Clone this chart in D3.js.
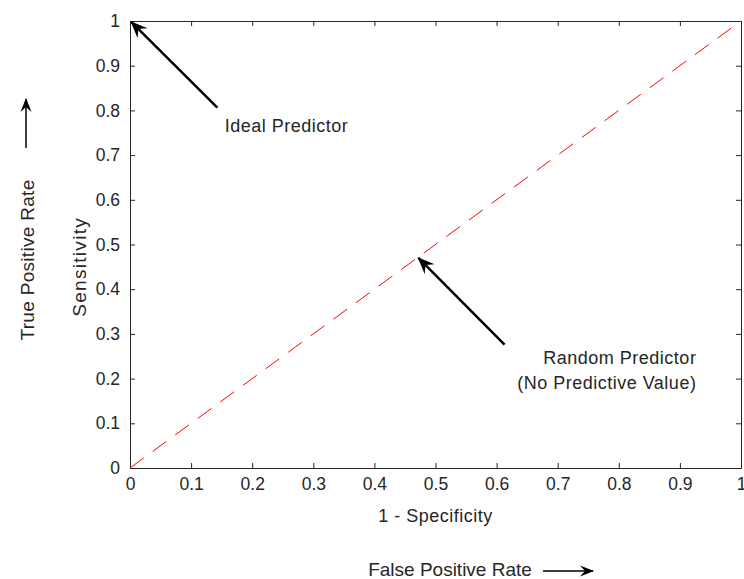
<!DOCTYPE html>
<html>
<head>
<meta charset="utf-8">
<script src="https://cdn.jsdelivr.net/npm/d3@7"></script>
<style>
  body { margin: 0; background: #fff; }
  text { font-family: "Liberation Sans", Arial, sans-serif; fill: #262626; }
</style>
</head>
<body>
<div class="plot"></div>
<script>
// ROC reference diagram: chance line plus two annotated predictors

var w = 744;
var h = 579;
var margin = {left: 130, right: 3, top: 21, bottom: 111};

// tick values / labels
var xTicks = [0, 0.1, 0.2, 0.3, 0.4, 0.5, 0.6, 0.7, 0.8, 0.9, 1];
var yTicks = [0, 0.1, 0.2, 0.3, 0.4, 0.5, 0.6, 0.7, 0.8, 0.9, 1];

// random classifier line (FPR, TPR)
var chanceLine = [[0, 0], [1, 1]];

// annotation arrows in data units: tail -> tip
var arrows = [
  {from: [0.143, 0.806], to: [0.002, 0.998]},
  {from: [0.613, 0.276], to: [0.472, 0.470]}
];

// annotation text
var notes = [
  {x: 0.155, y: 0.752, anchor: "start", lines: ["Ideal Predictor"]},
  {x: 0.927, y: 0.232, anchor: "end", lines: ["Random Predictor", "(No Predictive Value)"]}
];

var svg = d3.select(".plot").append("svg").attr("width", w).attr("height", h);

var xScale = d3.scaleLinear()
  .domain([0, 1])
  .range([margin.left, w - margin.right]);
var yScale = d3.scaleLinear()
  .domain([0, 1])
  .range([h - margin.bottom, margin.top]);

var fmt = function (d) { return d === 0 || d === 1 ? d3.format("d")(d) : d3.format(".1f")(d); };

// arrow head markers (big for annotations, small for the outer labels)
var defs = svg.append("defs");
function addHead(id, len, half, notch) {
  defs.append("marker")
    .attr("id", id)
    .attr("viewBox", (-len - 1) + " " + (-half - 1) + " " + (len + 3) + " " + (2 * half + 2))
    .attr("refX", 0)
    .attr("refY", 0)
    .attr("markerWidth", len + 3)
    .attr("markerHeight", 2 * half + 2)
    .attr("markerUnits", "userSpaceOnUse")
    .attr("orient", "auto")
    .append("path")
    .attr("d", "M1,0 L" + (-len) + "," + (-half) + " L" + (-notch) + ",0 L" + (-len) + "," + half + " Z")
    .attr("fill", "#000");
}
addHead("head", 16, 7, 10);
addHead("headSmall", 13, 5.5, 8);

// AXES (box with ticks pointing in on all four sides)
var tickLen = 5;
svg.append("g")
  .attr("class", "axis")
  .attr("transform", "translate(0," + (h - margin.bottom) + ")")
  .call(d3.axisBottom(xScale).tickValues(xTicks).tickFormat(fmt).tickSizeInner(-tickLen).tickSizeOuter(0).tickPadding(10));
svg.append("g")
  .attr("transform", "translate(0," + margin.top + ")")
  .call(d3.axisTop(xScale).tickValues(xTicks).tickFormat("").tickSizeInner(-tickLen).tickSizeOuter(0));
svg.append("g")
  .attr("transform", "translate(" + margin.left + ",0)")
  .call(d3.axisLeft(yScale).tickValues(yTicks).tickFormat(fmt).tickSizeInner(-tickLen).tickSizeOuter(0).tickPadding(10));
svg.append("g")
  .attr("transform", "translate(" + (w - margin.right) + ",0)")
  .call(d3.axisRight(yScale).tickValues(yTicks).tickFormat("").tickSizeInner(-tickLen).tickSizeOuter(0));

svg.selectAll(".tick line").attr("stroke", "#262626");
svg.selectAll(".domain").attr("stroke", "#262626").attr("stroke-width", 1);
svg.selectAll(".tick text")
  .attr("font-size", "17.5px")
  .attr("font-family", "'Liberation Sans', Arial, sans-serif")
  .attr("fill", "#4d4d4d");

// chance diagonal
var line = d3.line()
  .x(function (d) { return xScale(d[0]); })
  .y(function (d) { return yScale(d[1]); });
svg.append("path")
  .datum(chanceLine)
  .attr("d", line)
  .attr("fill", "none")
  .attr("stroke", "#ff0000")
  .attr("stroke-width", 1)
  .attr("stroke-dasharray", "17,11");

// arrows
svg.selectAll(".arrow")
  .data(arrows)
  .enter()
  .append("line")
  .attr("class", "arrow")
  .attr("x1", function (d) { return xScale(d.from[0]); })
  .attr("y1", function (d) { return yScale(d.from[1]); })
  .attr("x2", function (d) { return xScale(d.to[0]); })
  .attr("y2", function (d) { return yScale(d.to[1]); })
  .attr("stroke", "#000")
  .attr("stroke-width", 2.5)
  .attr("marker-end", "url(#head)");

// annotation labels
notes.forEach(function (n) {
  var t = svg.append("text")
    .attr("x", xScale(n.x))
    .attr("y", yScale(n.y))
    .attr("text-anchor", n.anchor)
    .attr("font-size", "18px")
    .attr("letter-spacing", "0.5px")
    .attr("fill", "#333");
  n.lines.forEach(function (s, i) {
    t.append("tspan")
      .attr("x", xScale(n.x))
      .attr("dy", i === 0 ? 0 : "1.4em")
      .text(s);
  });
});

// axis labels
svg.append("text")
  .attr("x", xScale(0.5))
  .attr("y", 522)
  .attr("text-anchor", "middle")
  .attr("font-size", "18px")
  .attr("letter-spacing", "0.5px")
  .attr("fill", "#333")
  .text("1 - Specificity");

svg.append("text")
  .attr("transform", "translate(86," + yScale(0.45) + ") rotate(-90)")
  .attr("text-anchor", "middle")
  .attr("font-size", "19px")
  .attr("letter-spacing", "1.3px")
  .attr("fill", "#333")
  .text("Sensitivity");

// outer labels with direction arrows
svg.append("text")
  .attr("transform", "translate(34,260) rotate(-90)")
  .attr("text-anchor", "middle")
  .attr("font-size", "19px")
  .attr("letter-spacing", "0.3px")
  .attr("fill", "#333")
  .text("True Positive Rate");
svg.append("line")
  .attr("x1", 26).attr("y1", 148)
  .attr("x2", 26).attr("y2", 99)
  .attr("stroke", "#000")
  .attr("stroke-width", 1.5)
  .attr("marker-end", "url(#headSmall)");

svg.append("text")
  .attr("x", 450)
  .attr("y", 576)
  .attr("text-anchor", "middle")
  .attr("font-size", "19px")
  .attr("fill", "#333")
  .text("False Positive Rate");
svg.append("line")
  .attr("x1", 543).attr("y1", 571)
  .attr("x2", 593).attr("y2", 571)
  .attr("stroke", "#000")
  .attr("stroke-width", 1.5)
  .attr("marker-end", "url(#headSmall)");
</script>
</body>
</html>
